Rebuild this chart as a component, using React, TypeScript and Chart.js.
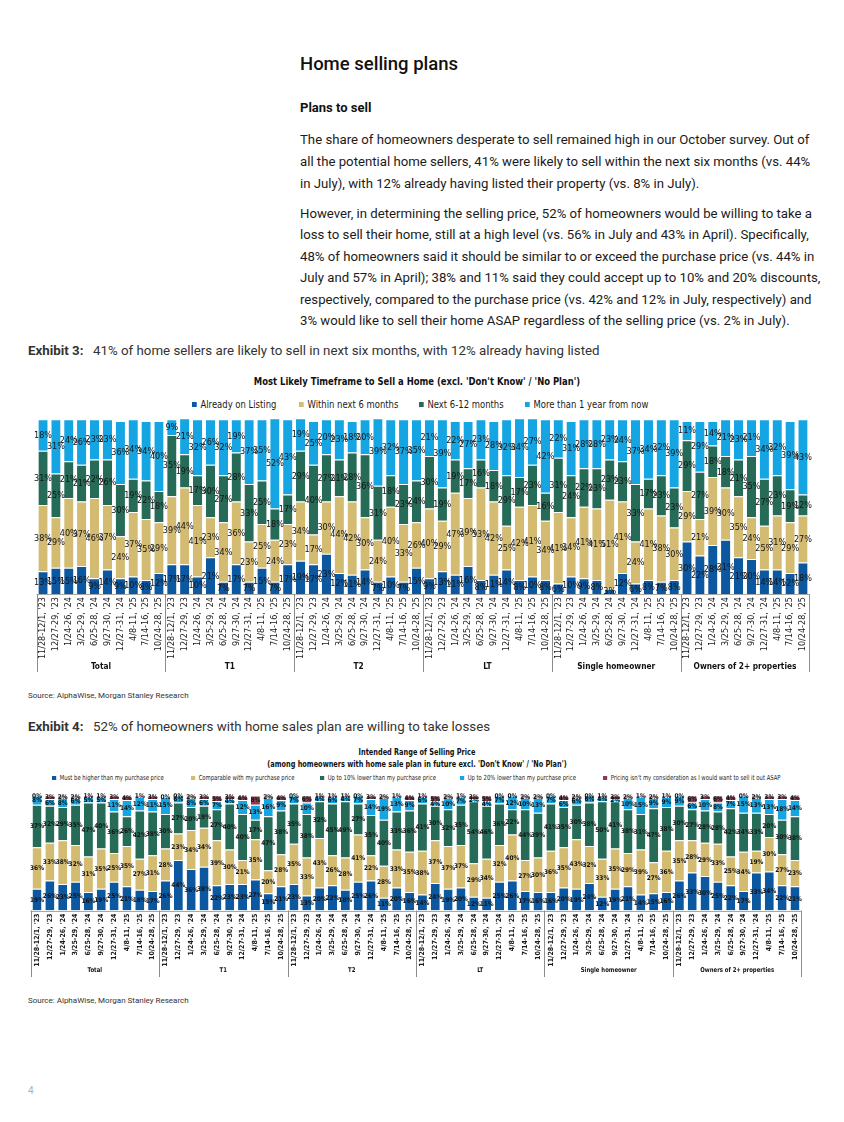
import React, { useEffect, useRef } from "react";
import { Chart, registerables } from "chart.js";

Chart.register(...registerables);

// ---------- DATA ----------
const periods = [
  "11/28-12/1, '23",
  "12/27-29, '23",
  "1/24-26, '24",
  "3/25-29, '24",
  "6/25-28, '24",
  "9/27-30, '24",
  "12/27-31, '24",
  "4/8-11, '25",
  "7/14-16, '25",
  "10/24-28, '25",
];
const groups = ["Total", "T1", "T2", "LT", "Single homeowner", "Owners of 2+ properties"];
const categoryLabels = groups.flatMap(() => periods);

// Exhibit 3 series (Total, T1, T2, LT, Single homeowner, Owners of 2+)
const alreadyOnListing = [
  13, 15, 15, 16, 9, 14, 9, 10, 8, 12,
  17, 17, 10, 21, 7, 17, 7, 15, 7, 17,
  19, 17, 23, 12, 11, 14, 7, 10, 7, 15,
  9, 13, 11, 16, 8, 11, 14, 8, 10, 8,
  6, 10, 9, 8, 3, 12, 6, 8, 7, 8,
  30, 22, 28, 31, 21, 20, 14, 14, 12, 18,
];
const withinNext6Months = [
  38, 29, 40, 37, 46, 37, 24, 37, 35, 29,
  39, 44, 41, 23, 34, 36, 23, 25, 24, 23,
  34, 17, 30, 44, 42, 30, 24, 40, 33, 26,
  40, 29, 47, 39, 53, 42, 25, 42, 41, 34,
  41, 34, 41, 41, 51, 41, 24, 41, 38, 30,
  29, 21, 39, 30, 35, 24, 25, 31, 29, 27,
];
const next6to12Months = [
  31, 25, 21, 21, 22, 26, 30, 19, 22, 18,
  35, 19, 17, 30, 27, 28, 33, 25, 18, 17,
  29, 40, 27, 21, 28, 36, 31, 18, 23, 24,
  30, 19, 19, 17, 16, 18, 29, 17, 23, 16,
  31, 24, 22, 23, 23, 23, 33, 17, 23, 23,
  29, 27, 18, 18, 21, 35, 27, 23, 19, 12,
];
const moreThan1Year = [
  18, 31, 24, 26, 23, 23, 36, 34, 34, 40,
  9, 21, 32, 26, 32, 19, 37, 35, 52, 43,
  19, 25, 20, 23, 18, 20, 39, 32, 37, 35,
  21, 39, 22, 27, 23, 28, 32, 34, 27, 42,
  22, 31, 28, 28, 23, 24, 37, 34, 32, 39,
  11, 29, 14, 21, 23, 21, 34, 32, 39, 43,
];

// Exhibit 4 series
const mustBeHigher = [
  19, 26, 23, 25, 16, 19, 25, 21, 18, 17,
  26, 44, 36, 38, 22, 23, 23, 27, 15, 21,
  23, 13, 20, 22, 18, 25, 26, 11, 20, 16,
  14, 24, 19, 20, 12, 11, 25, 26, 17, 16,
  16, 20, 19, 24, 12, 19, 21, 14, 15, 16,
  26, 33, 30, 25, 22, 17, 33, 34, 22, 21,
];
const comparable = [
  36, 33, 38, 32, 31, 35, 25, 35, 27, 31,
  28, 23, 34, 34, 39, 30, 21, 35, 20, 28,
  35, 33, 43, 26, 28, 41, 22, 28, 33, 35,
  38, 37, 37, 37, 29, 34, 32, 40, 27, 30,
  36, 35, 43, 32, 33, 35, 29, 39, 27, 36,
  35, 28, 29, 33, 25, 34, 19, 30, 27, 23,
];
const upTo10Lower = [
  37, 32, 29, 35, 47, 40, 36, 26, 42, 38,
  30, 27, 20, 19, 27, 40, 40, 17, 47, 38,
  35, 38, 32, 45, 49, 27, 35, 40, 33, 36,
  41, 30, 32, 35, 54, 46, 36, 22, 44, 39,
  41, 35, 30, 38, 50, 41, 38, 31, 47, 38,
  30, 27, 28, 28, 42, 34, 33, 20, 30, 38,
];
const upTo20Lower = [
  8, 6, 8, 6, 5, 5, 11, 14, 12, 11,
  15, 6, 8, 6, 7, 4, 12, 13, 16, 9,
  7, 10, 4, 6, 4, 7, 14, 19, 13, 9,
  6, 4, 10, 7, 2, 4, 7, 12, 10, 13,
  7, 6, 6, 6, 4, 2, 10, 15, 9, 9,
  9, 6, 10, 8, 7, 15, 13, 13, 18, 14,
];
const pricingNotConsidered = [
  0, 3, 2, 2, 1, 1, 3, 4, 1, 3,
  0, 0, 2, 3, 5, 3, 4, 8, 2, 4,
  0, 6, 1, 1, 1, 0, 3, 2, 1, 4,
  1, 5, 2, 1, 3, 5, 0, 0, 2, 2,
  0, 4, 2, 0, 1, 3, 2, 1, 2, 1,
  0, 6, 3, 6, 4, 0, 2, 3, 3, 4,
];

const legend1 = ["Already on Listing", "Within next 6 months", "Next 6-12 months", "More than 1 year from now"];
const legend2 = [
  "Must be higher than my purchase price",
  "Comparable with my purchase price",
  "Up to 10% lower than my purchase price",
  "Up to 20% lower than my purchase price",
  "Pricing isn't my consideration as I would want to sell it out ASAP",
];

// ---------- STYLE ----------
const BLUE = "#0b58a0";
const TAN = "#d3bb72";
const GREEN = "#266b57";
const LBLUE = "#14a5e2";
const MAROON = "#8b3c51";
const colors1 = [BLUE, TAN, GREEN, LBLUE];
const colors2 = [BLUE, TAN, GREEN, LBLUE, MAROON];

const NARROW = "'Liberation Sans Narrow', 'Arial Narrow', 'DejaVu Sans Condensed', sans-serif";
const BODY = "Roboto, 'Noto Sans', Arial, sans-serif";

type ChartCfg = {
  width: number;
  height: number;
  padding: { top: number; left: number; right: number; bottom: number };
  axisHeight: number;
  tickFont: { size: number; weight: string };
  labelFont: string;
  groupFont: string;
  groupScale: number;
  groupLabelY: number;
  sepBottom: number;
  barPct: number;
};

function makePlugins(cfg: ChartCfg) {
  const valueLabels = {
    id: "valueLabels",
    afterDatasetsDraw(chart: any) {
      const ctx = chart.ctx;
      ctx.save();
      ctx.font = cfg.labelFont;
      ctx.fillStyle = "#141414";
      ctx.textAlign = "center";
      ctx.textBaseline = "middle";
      chart.data.datasets.forEach((ds: any, di: number) => {
        const meta = chart.getDatasetMeta(di);
        meta.data.forEach((el: any, i: number) => {
          const v = ds.data[i];
          const p = el.getProps(["x", "y", "base"], true);
          ctx.fillText(v + "%", p.x, (p.y + p.base) / 2 + 0.5);
        });
      });
      ctx.restore();
    },
  };
  const groupAxis = {
    id: "groupAxis",
    afterDraw(chart: any) {
      const ctx = chart.ctx;
      const xs = chart.scales.x;
      const area = chart.chartArea;
      const step = xs.getPixelForValue(1) - xs.getPixelForValue(0);
      const x0 = xs.getPixelForValue(0);
      ctx.save();
      ctx.strokeStyle = "#a8a8a8";
      ctx.lineWidth = 1;
      ctx.beginPath();
      ctx.moveTo(x0 - step / 2, Math.round(area.bottom) + 0.5);
      ctx.lineTo(x0 + step * (categoryLabels.length - 0.5), Math.round(area.bottom) + 0.5);
      ctx.stroke();
      ctx.strokeStyle = "#8c8c8c";
      for (let g = 0; g <= groups.length; g++) {
        const px = Math.round(x0 + step * (g * periods.length - 0.5)) + 0.5;
        ctx.beginPath();
        ctx.moveTo(px, area.bottom);
        ctx.lineTo(px, cfg.sepBottom);
        ctx.stroke();
      }
      ctx.font = cfg.groupFont;
      ctx.fillStyle = "#111";
      ctx.textAlign = "center";
      ctx.textBaseline = "middle";
      groups.forEach((g, gi) => {
        const cx = x0 + step * (gi * periods.length + (periods.length - 1) / 2);
        ctx.save();
        ctx.translate(cx, cfg.groupLabelY);
        ctx.scale(cfg.groupScale, 1);
        ctx.fillText(g, 0, 0);
        ctx.restore();
      });
      ctx.restore();
    },
  };
  return [valueLabels, groupAxis];
}

function StackedChart({
  series,
  cfg,
  style,
}: {
  series: { label: string; data: number[]; color: string }[];
  cfg: ChartCfg;
  style: React.CSSProperties;
}) {
  const ref = useRef<HTMLCanvasElement | null>(null);
  useEffect(() => {
    if (!ref.current) return;
    const chart = new Chart(ref.current, {
      type: "bar",
      data: {
        labels: categoryLabels,
        datasets: series.map((s) => ({
          label: s.label,
          data: s.data,
          backgroundColor: s.color,
          borderColor: "rgba(255,255,255,0.55)",
          borderWidth: { top: 1, left: 0, right: 0, bottom: 0 },
          borderSkipped: "start",
          barPercentage: cfg.barPct,
          categoryPercentage: 1,
        })),
      },
      options: {
        animation: false,
        responsive: false,
        devicePixelRatio: 1,
        layout: { padding: cfg.padding },
        plugins: {
          legend: { display: false },
          title: { display: false },
          tooltip: { enabled: false },
        },
        scales: {
          x: {
            stacked: true,
            offset: true,
            grid: { display: false, drawTicks: false },
            border: { display: false },
            ticks: {
              autoSkip: false,
              minRotation: 90,
              maxRotation: 90,
              padding: 3,
              color: "#1a1a1a",
              font: { family: NARROW, size: cfg.tickFont.size, weight: cfg.tickFont.weight as any },
            },
            afterFit: (s: any) => {
              s.height = cfg.axisHeight;
              s.paddingLeft = 0;
              s.paddingRight = 0;
            },
          },
          y: { stacked: true, display: false, min: 0, max: 100 },
        },
      },
      plugins: makePlugins(cfg),
    });
    return () => chart.destroy();
  }, []);
  return <canvas ref={ref} width={cfg.width} height={cfg.height} style={{ position: "absolute", ...style }} />;
}

function Txt({
  x,
  y,
  size,
  weight = 400,
  color = "#1b1b1b",
  family = BODY,
  children,
}: {
  x: number;
  y: number;
  size: number;
  weight?: number;
  color?: string;
  family?: string;
  children: React.ReactNode;
}) {
  const lh = Math.round(size * 1.4);
  return (
    <div
      style={{
        position: "absolute",
        left: x,
        top: y - lh / 2,
        fontSize: size,
        lineHeight: lh + "px",
        fontWeight: weight,
        color,
        fontFamily: family,
        whiteSpace: "nowrap",
      }}
    >
      {children}
    </div>
  );
}

function CenterTxt({
  cx,
  y,
  size,
  scale = 1,
  weight = 700,
  children,
}: {
  cx: number;
  y: number;
  size: number;
  scale?: number;
  weight?: number;
  children: React.ReactNode;
}) {
  const lh = Math.round(size * 1.4);
  return (
    <div
      style={{
        position: "absolute",
        left: cx - 400,
        width: 800,
        textAlign: "center",
        top: y - lh / 2,
        fontSize: size,
        lineHeight: lh + "px",
        fontWeight: weight,
        fontFamily: NARROW,
        color: "#111",
        whiteSpace: "nowrap",
        transform: `scaleX(${scale})`,
        transformOrigin: "center center",
      }}
    >
      {children}
    </div>
  );
}

function Legend({
  items,
  colors,
  xs,
  y,
  size,
  box,
  scale,
}: {
  items: string[];
  colors: string[];
  xs: number[];
  y: number;
  size: number;
  box: number;
  scale: number;
}) {
  return (
    <>
      {items.map((t, i) => (
        <div
          key={t}
          style={{
            position: "absolute",
            left: xs[i],
            top: y - size * 0.7,
            height: size * 1.4,
            display: "flex",
            alignItems: "center",
            fontFamily: NARROW,
            fontSize: size,
            color: "#1a1a1a",
            whiteSpace: "nowrap",
            transform: `scaleX(${scale})`,
            transformOrigin: "left center",
          }}
        >
          <span
            style={{
              display: "inline-block",
              width: box / scale,
              height: box,
              background: colors[i],
              marginRight: (box * 0.7) / scale,
            }}
          />
          {t}
        </div>
      ))}
    </>
  );
}

const cfg1: ChartCfg = {
  width: 784,
  height: 268,
  padding: { top: 5.3, left: 8.6, right: 2.6, bottom: 0 },
  axisHeight: 88,
  tickFont: { size: 9, weight: "normal" },
  labelFont: `9px ${NARROW}`,
  groupFont: `bold 9.5px ${NARROW}`,
  groupScale: 0.87,
  groupLabelY: 253,
  sepBottom: 258,
  barPct: 0.72,
};

const cfg2: ChartCfg = {
  width: 784,
  height: 190,
  padding: { top: 5.5, left: 2.6, right: 10.6, bottom: 0 },
  axisHeight: 69.5,
  tickFont: { size: 7, weight: "bold" },
  labelFont: `bold 6.5px ${NARROW}`,
  groupFont: `bold 6.6px ${NARROW}`,
  groupScale: 0.9,
  groupLabelY: 180,
  sepBottom: 187,
  barPct: 0.7,
};

export default function App() {
  const series1 = [alreadyOnListing, withinNext6Months, next6to12Months, moreThan1Year].map((d, i) => ({
    label: legend1[i],
    data: d,
    color: colors1[i],
  }));
  const series2 = [mustBeHigher, comparable, upTo10Lower, upTo20Lower, pricingNotConsidered].map((d, i) => ({
    label: legend2[i],
    data: d,
    color: colors2[i],
  }));
  const p1 = [
    "The share of homeowners desperate to sell remained high in our October survey. Out of",
    "all the potential home sellers, 41% were likely to sell within the next six months (vs. 44%",
    "in July), with 12% already having listed their property (vs. 8% in July).",
  ];
  const p2 = [
    "However, in determining the selling price, 52% of homeowners would be willing to take a",
    "loss to sell their home, still at a high level (vs. 56% in July and 43% in April). Specifically,",
    "48% of homeowners said it should be similar to or exceed the purchase price (vs. 44% in",
    "July and 57% in April); 38% and 11% said they could accept up to 10% and 20% discounts,",
    "respectively, compared to the purchase price (vs. 42% and 12% in July, respectively) and",
    "3% would like to sell their home ASAP regardless of the selling price (vs. 2% in July).",
  ];
  return (
    <div style={{ position: "absolute", left: 0, top: 0, width: 844, height: 1122, background: "#fff", overflow: "hidden" }}>
      <Txt x={300} y={64} size={18.5} weight={500} color="#111">
        Home selling plans
      </Txt>
      <Txt x={300} y={108} size={13} weight={700} color="#111">
        Plans to sell
      </Txt>
      {p1.map((l, i) => (
        <Txt key={l} x={300} y={140 + i * 22} size={13.2}>
          {l}
        </Txt>
      ))}
      {p2.map((l, i) => (
        <Txt key={l} x={300} y={214 + i * 21.4} size={13.2}>
          {l}
        </Txt>
      ))}
      <Txt x={28} y={350} size={13.3} weight={700} color="#333">
        Exhibit 3:
      </Txt>
      <Txt x={93} y={350} size={13.3} color="#333">
        41% of home sellers are likely to sell in next six months, with 12% already having listed
      </Txt>
      <CenterTxt cx={416.5} y={382} size={10.2} scale={0.92}>
        Most Likely Timeframe to Sell a Home (excl. 'Don't Know' / 'No Plan')
      </CenterTxt>
      <Legend items={legend1} colors={colors1} xs={[192, 299, 419, 525]} y={404} size={10} box={5} scale={0.94} />
      <StackedChart series={series1} cfg={cfg1} style={{ left: 28, top: 414 }} />
      <Txt x={28} y={695} size={8} color="#333">
        Source: AlphaWise, Morgan Stanley Research
      </Txt>

      <Txt x={28} y={726} size={13.3} weight={700} color="#333">
        Exhibit 4:
      </Txt>
      <Txt x={93} y={726} size={13.3} color="#333">
        52% of homeowners with home sales plan are willing to take losses
      </Txt>
      <CenterTxt cx={417} y={752} size={8.4} scale={0.87}>
        Intended Range of Selling Price
      </CenterTxt>
      <CenterTxt cx={416.5} y={764} size={8.4} scale={0.87}>
        (among homeowners with home sale plan in future excl. 'Don't Know' / 'No Plan')
      </CenterTxt>
      <Legend items={legend2} colors={colors2} xs={[52, 191, 320, 460, 603]} y={778} size={7} box={4.5} scale={0.84} />
      <StackedChart series={series2} cfg={cfg2} style={{ left: 28, top: 790 }} />
      <Txt x={28} y={1000} size={8} color="#333">
        Source: AlphaWise, Morgan Stanley Research
      </Txt>
      <Txt x={28} y={1091} size={10} color="#9fb3c8">
        4
      </Txt>
    </div>
  );
}
